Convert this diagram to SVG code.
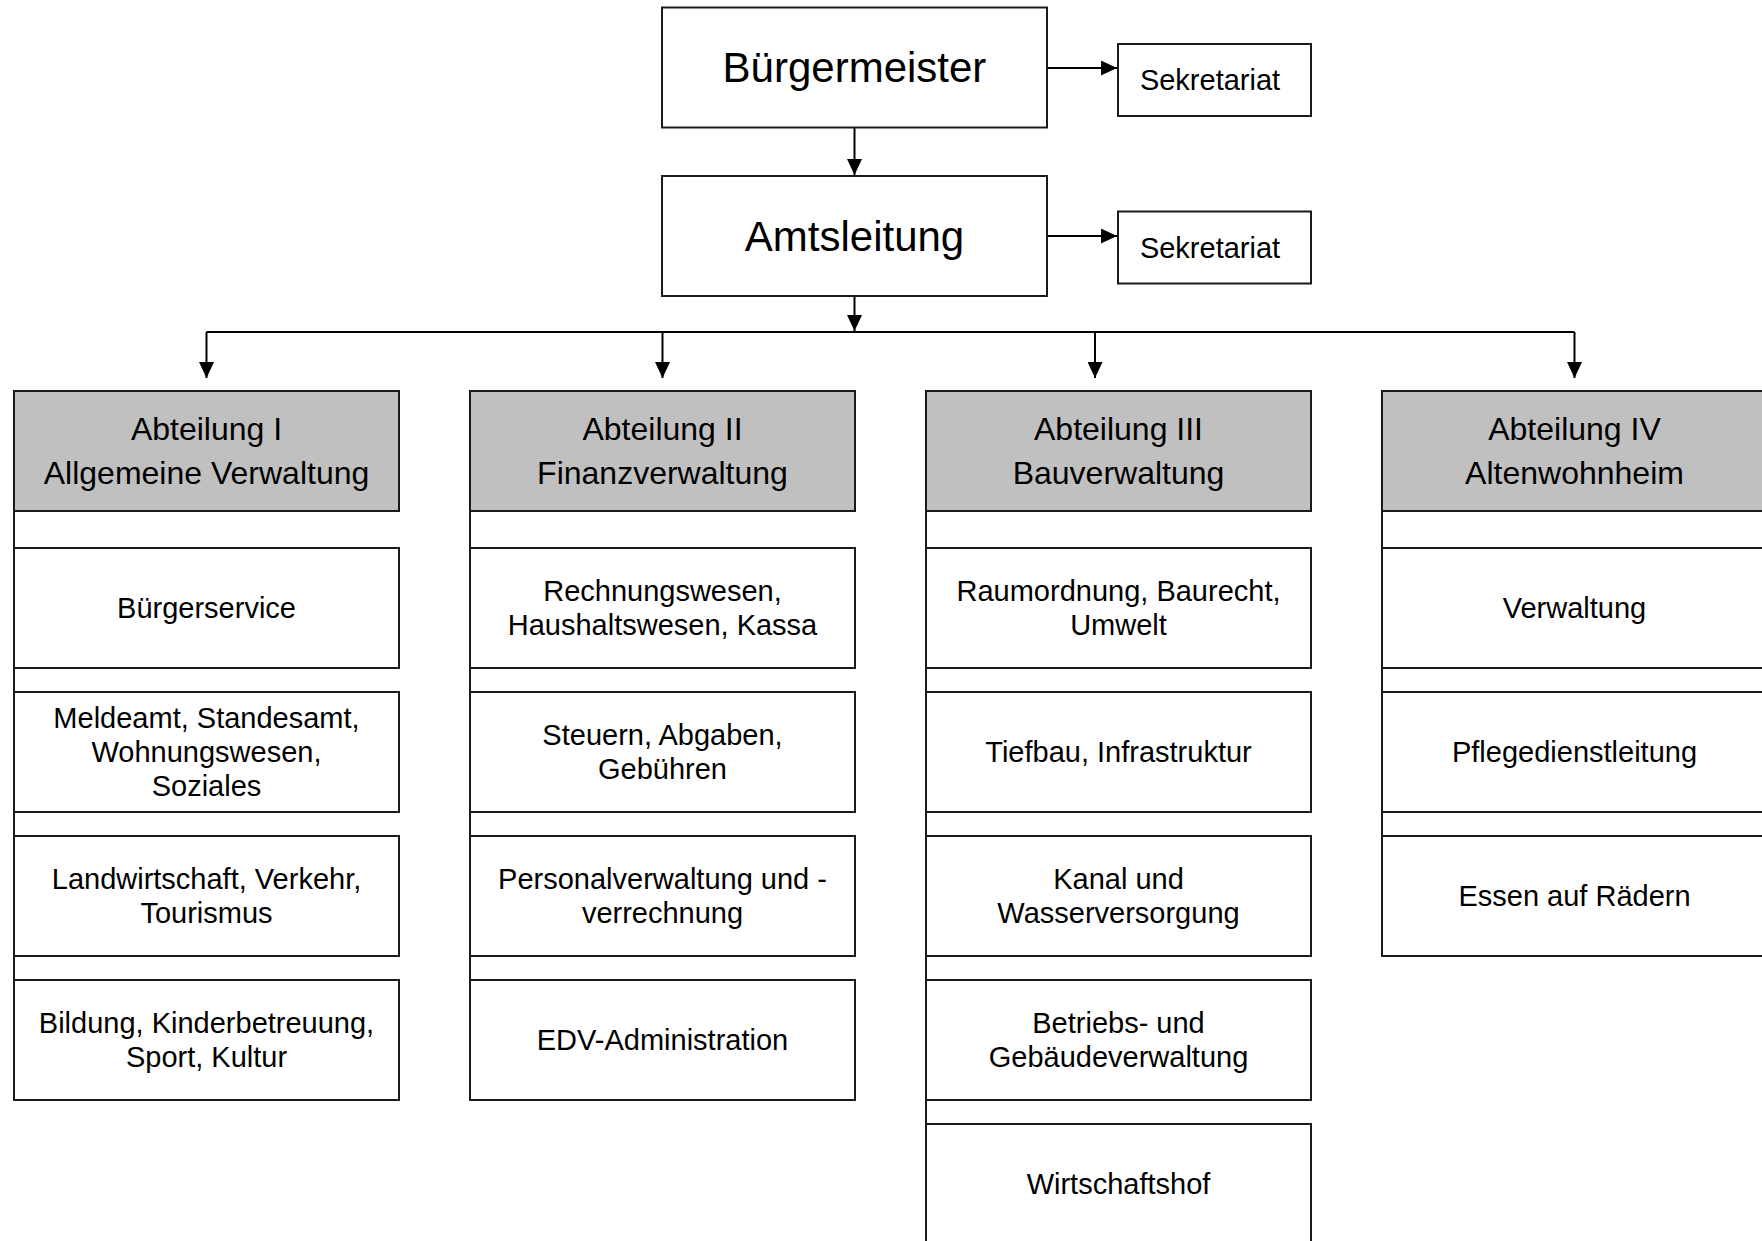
<svg xmlns="http://www.w3.org/2000/svg" width="1762" height="1241" viewBox="0 0 1762 1241">
<defs>
<marker id="ah" markerUnits="userSpaceOnUse" markerWidth="16" markerHeight="15" refX="16" refY="7.5" orient="auto">
<path d="M0,0 L16,7.5 L0,15 z" fill="#000"/>
</marker>
<style>
.box{fill:#fff;stroke:#1a1a1a;stroke-width:2}
.hdr{fill:#c0c0c0;stroke:#1a1a1a;stroke-width:2}
.ln{fill:none;stroke:#000;stroke-width:2}
.spine{fill:none;stroke:#1a1a1a;stroke-width:2}
text{font-family:"Liberation Sans",Arial,sans-serif;fill:#000;text-anchor:middle}
.t42{font-size:42px}
.t32{font-size:32px}
.t29{font-size:29px}
</style>
</defs>
<rect width="1762" height="1241" fill="#fff"/>

<g id="connectors">
<path class="ln" d="M1047,68 H1117" marker-end="url(#ah)"/>
<path class="ln" d="M1047,236 H1117" marker-end="url(#ah)"/>
<path class="ln" d="M854.5,127.5 V175" marker-end="url(#ah)"/>
<path class="ln" d="M854.5,296 V331" marker-end="url(#ah)"/>
<path class="ln" d="M206.5,332 H1574.5"/>
<path class="ln" d="M206.5,332 V378" marker-end="url(#ah)"/>
<path class="ln" d="M662.5,332 V378" marker-end="url(#ah)"/>
<path class="ln" d="M1095,332 V378" marker-end="url(#ah)"/>
<path class="ln" d="M1574.5,332 V378" marker-end="url(#ah)"/>
<path class="spine" d="M14,391 V1100"/>
<path class="spine" d="M470,391 V1100"/>
<path class="spine" d="M926,391 V1241"/>
<path class="spine" d="M1382,391 V956"/>
</g>

<g id="buergermeister">
<rect class="box" x="662" y="7.5" width="385" height="120"/>
<text class="t42" x="854.5" y="82">Bürgermeister</text>
</g>
<g id="sekretariat1">
<rect class="box" x="1118" y="44" width="193" height="72"/>
<text class="t29" x="1210" y="90">Sekretariat</text>
</g>
<g id="amtsleitung">
<rect class="box" x="662" y="176" width="385" height="120"/>
<text class="t42" x="854.5" y="251">Amtsleitung</text>
</g>
<g id="sekretariat2">
<rect class="box" x="1118" y="211.5" width="193" height="72"/>
<text class="t29" x="1210" y="258">Sekretariat</text>
</g>

<!-- Column 1 -->
<g id="abt1">
<rect class="hdr" x="14" y="391" width="385" height="120"/>
<text class="t32" x="206.5" y="440">Abteilung I</text>
<text class="t32" x="206.5" y="484">Allgemeine Verwaltung</text>
</g>
<g id="c1b1">
<rect class="box" x="14" y="548" width="385" height="120"/>
<text class="t29" x="206.5" y="618">Bürgerservice</text>
</g>
<g id="c1b2">
<rect class="box" x="14" y="692" width="385" height="120"/>
<text class="t29" x="206.5" y="728">Meldeamt, Standesamt,</text>
<text class="t29" x="206.5" y="762">Wohnungswesen,</text>
<text class="t29" x="206.5" y="796">Soziales</text>
</g>
<g id="c1b3">
<rect class="box" x="14" y="836" width="385" height="120"/>
<text class="t29" x="206.5" y="889">Landwirtschaft, Verkehr,</text>
<text class="t29" x="206.5" y="923">Tourismus</text>
</g>
<g id="c1b4">
<rect class="box" x="14" y="980" width="385" height="120"/>
<text class="t29" x="206.5" y="1033">Bildung, Kinderbetreuung,</text>
<text class="t29" x="206.5" y="1067">Sport, Kultur</text>
</g>

<!-- Column 2 -->
<g id="abt2">
<rect class="hdr" x="470" y="391" width="385" height="120"/>
<text class="t32" x="662.5" y="440">Abteilung II</text>
<text class="t32" x="662.5" y="484">Finanzverwaltung</text>
</g>
<g id="c2b1">
<rect class="box" x="470" y="548" width="385" height="120"/>
<text class="t29" x="662.5" y="601">Rechnungswesen,</text>
<text class="t29" x="662.5" y="635">Haushaltswesen, Kassa</text>
</g>
<g id="c2b2">
<rect class="box" x="470" y="692" width="385" height="120"/>
<text class="t29" x="662.5" y="745">Steuern, Abgaben,</text>
<text class="t29" x="662.5" y="779">Gebühren</text>
</g>
<g id="c2b3">
<rect class="box" x="470" y="836" width="385" height="120"/>
<text class="t29" x="662.5" y="889">Personalverwaltung und -</text>
<text class="t29" x="662.5" y="923">verrechnung</text>
</g>
<g id="c2b4">
<rect class="box" x="470" y="980" width="385" height="120"/>
<text class="t29" x="662.5" y="1050">EDV-Administration</text>
</g>

<!-- Column 3 -->
<g id="abt3">
<rect class="hdr" x="926" y="391" width="385" height="120"/>
<text class="t32" x="1118.5" y="440">Abteilung III</text>
<text class="t32" x="1118.5" y="484">Bauverwaltung</text>
</g>
<g id="c3b1">
<rect class="box" x="926" y="548" width="385" height="120"/>
<text class="t29" x="1118.5" y="601">Raumordnung, Baurecht,</text>
<text class="t29" x="1118.5" y="635">Umwelt</text>
</g>
<g id="c3b2">
<rect class="box" x="926" y="692" width="385" height="120"/>
<text class="t29" x="1118.5" y="762">Tiefbau, Infrastruktur</text>
</g>
<g id="c3b3">
<rect class="box" x="926" y="836" width="385" height="120"/>
<text class="t29" x="1118.5" y="889">Kanal und</text>
<text class="t29" x="1118.5" y="923">Wasserversorgung</text>
</g>
<g id="c3b4">
<rect class="box" x="926" y="980" width="385" height="120"/>
<text class="t29" x="1118.5" y="1033">Betriebs- und</text>
<text class="t29" x="1118.5" y="1067">Gebäudeverwaltung</text>
</g>
<g id="c3b5">
<rect class="box" x="926" y="1124" width="385" height="120"/>
<text class="t29" x="1118.5" y="1194">Wirtschaftshof</text>
</g>

<!-- Column 4 -->
<g id="abt4">
<rect class="hdr" x="1382" y="391" width="385" height="120"/>
<text class="t32" x="1574.5" y="440">Abteilung IV</text>
<text class="t32" x="1574.5" y="484">Altenwohnheim</text>
</g>
<g id="c4b1">
<rect class="box" x="1382" y="548" width="385" height="120"/>
<text class="t29" x="1574.5" y="618">Verwaltung</text>
</g>
<g id="c4b2">
<rect class="box" x="1382" y="692" width="385" height="120"/>
<text class="t29" x="1574.5" y="762">Pflegedienstleitung</text>
</g>
<g id="c4b3">
<rect class="box" x="1382" y="836" width="385" height="120"/>
<text class="t29" x="1574.5" y="906">Essen auf Rädern</text>
</g>
</svg>
